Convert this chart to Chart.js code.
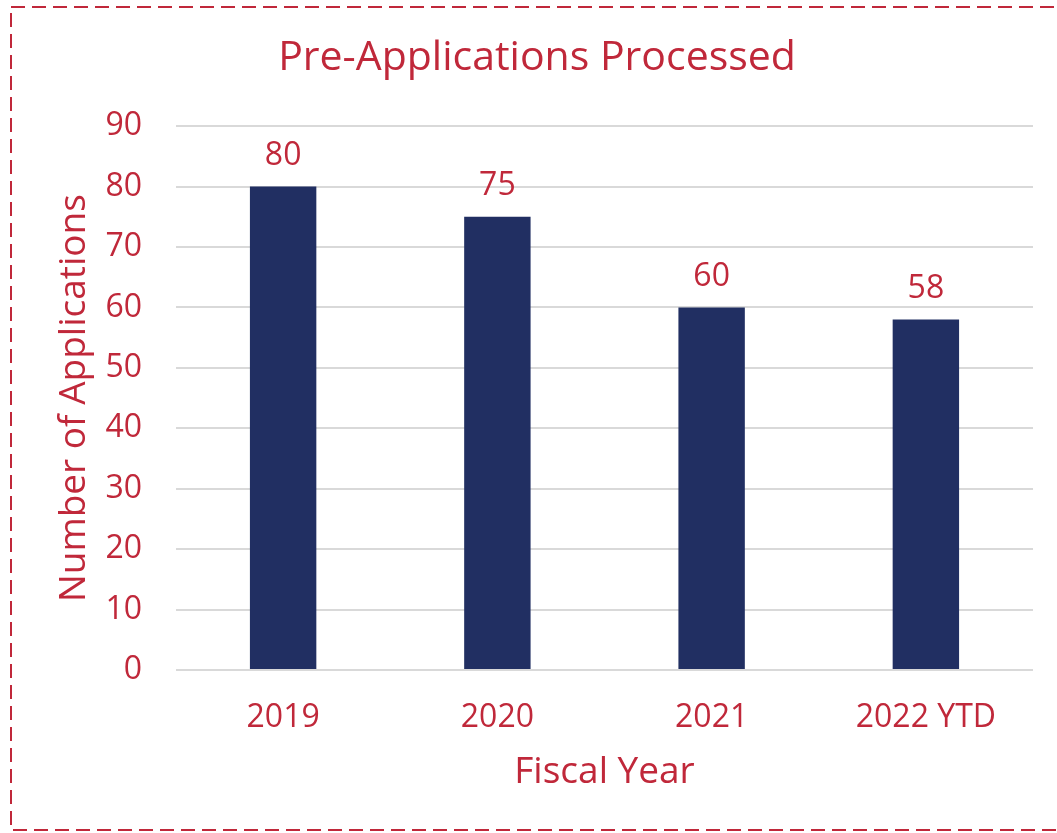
<!DOCTYPE html>
<html>
<head>
<meta charset="utf-8">
<script src="https://cdn.jsdelivr.net/npm/chart.js@4/dist/chart.umd.min.js"></script>
<style>
  html, body { margin: 0; padding: 0; background: #fff; }
  #wrap { position: absolute; left: 0; top: 0; width: 1057px; height: 833px; }
</style>
</head>
<body>
<div id="wrap"><canvas id="c"></canvas></div>
<script>
const categories = ['2019', '2020', '2021', '2022 YTD'];
const applications = [80, 75, 60, 58];
const yTicks = [0, 10, 20, 30, 40, 50, 60, 70, 80, 90];

const RED = '#c0283a';
const NAVY = '#212f62';
const FONT = "'Open Sans', 'Noto Sans', sans-serif";

// dashed frame around the whole chart
const framePlugin = {
    id: 'frame',
    beforeDraw(chart) {
        const ctx = chart.ctx;
        ctx.save();
        ctx.strokeStyle = RED;
        ctx.lineWidth = 2;
        ctx.setLineDash([14, 7]);
        ctx.strokeRect(11, 7, 1056, 823);
        ctx.restore();
    }
};

// value labels above each bar
const valueLabels = {
    id: 'valueLabels',
    afterDatasetsDraw(chart) {
        const ctx = chart.ctx;
        const meta = chart.getDatasetMeta(0);
        ctx.save();
        ctx.fillStyle = RED;
        ctx.font = '32px ' + FONT;
        ctx.textAlign = 'center';
        ctx.textBaseline = 'middle';
        meta.data.forEach((bar, i) => {
            ctx.fillText(applications[i], bar.x, bar.y - 31);
        });
        ctx.restore();
    }
};

new Chart(document.getElementById('c'), {
    type: 'bar',
    data: {
        labels: categories,
        datasets: [{
            label: 'Pre-Applications',
            data: applications,
            backgroundColor: NAVY,
            categoryPercentage: 1,
            barPercentage: 0.31
        }]
    },
    options: {
        responsive: true,
        maintainAspectRatio: false,
        animation: { duration: 0 },
        layout: { padding: { left: 41, right: 24, top: 20, bottom: 36 } },
        plugins: {
            legend: { display: false },
            tooltip: { enabled: false },
            title: {
                display: true,
                text: 'Pre-Applications Processed',
                color: RED,
                font: { family: FONT, size: 41, weight: 'normal' },
                padding: { top: 14, bottom: 43 }
            }
        },
        scales: {
            x: {
                afterFit(axis) { axis.height = 127; },
                grid: { display: false, drawTicks: false },
                border: { display: false },
                ticks: {
                    color: RED,
                    font: { family: FONT, size: 32 },
                    padding: 29
                },
                title: {
                    display: true,
                    text: 'Fiscal Year',
                    color: RED,
                    font: { family: FONT, size: 37 },
                    padding: { top: 0, bottom: 2 }
                }
            },
            y: {
                min: 0,
                max: 90,
                afterFit(axis) { axis.width = 135; },
                afterBuildTicks(axis) {
                    axis.ticks = yTicks.map(v => ({ value: v }));
                },
                grid: { color: '#d9d9d9', lineWidth: 2, drawTicks: false },
                border: { display: false },
                ticks: {
                    color: RED,
                    font: { family: FONT, size: 32 },
                    padding: 34
                },
                title: {
                    display: true,
                    text: 'Number of Applications',
                    color: RED,
                    font: { family: FONT, size: 37 },
                    padding: { top: 11, bottom: 0 }
                }
            }
        }
    },
    plugins: [framePlugin, valueLabels]
});
</script>
</body>
</html>
